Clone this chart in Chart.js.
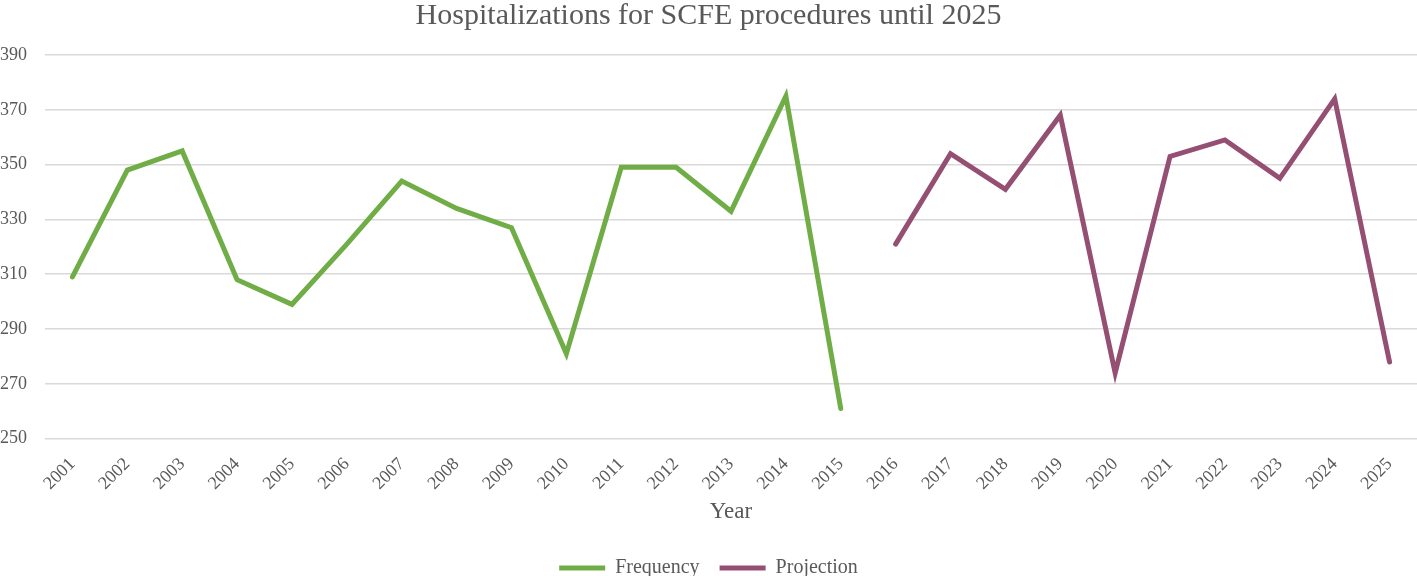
<!DOCTYPE html>
<html>
<head>
<meta charset="utf-8">
<script src="https://cdn.jsdelivr.net/npm/chart.js@4.4.0/dist/chart.umd.min.js"></script>
<style>
  html, body { margin: 0; padding: 0; background: #fff; }
  .wrap { width: 1417px; height: 576px; position: relative; }
</style>
</head>
<body>
<div class="wrap"><canvas id="chart"></canvas></div>
<script>
// years on the x axis
const years = ["2001", "2002", "2003", "2004", "2005", "2006", "2007", "2008", "2009", "2010",
  "2011", "2012", "2013", "2014", "2015", "2016", "2017", "2018", "2019", "2020",
  "2021", "2022", "2023", "2024", "2025"];

// observed hospitalizations 2001-2015
const frequency = [309, 348, 355, 308, 299, 321, 344, 334, 327, 281,
  349, 349, 333, 375, 261, null, null, null, null, null,
  null, null, null, null, null];

// projected values 2016-2025
const projection = [null, null, null, null, null, null, null, null, null, null,
  null, null, null, null, null, 321, 354, 341, 368, 274,
  353, 359, 345, 374, 278];

const textColor = "#595959";
const serif = "'Liberation Serif', 'Times New Roman', serif";

let chartElement = document.getElementById("chart");
let config = {
  type: "line",
  data: {
    labels: years,
    datasets: [
      {
        label: "Frequency",
        data: frequency,
        borderColor: "#70AD47",
        backgroundColor: "#70AD47",
        borderWidth: 5,
        borderCapStyle: "round",
        pointRadius: 0,
        tension: 0,
        spanGaps: false,
      },
      {
        label: "Projection",
        data: projection,
        borderColor: "#954F72",
        backgroundColor: "#954F72",
        borderWidth: 5,
        borderCapStyle: "round",
        pointRadius: 0,
        tension: 0,
        spanGaps: false,
      },
    ],
  },
  options: {
    responsive: true,
    maintainAspectRatio: false,
    animation: false,
    layout: { padding: { left: 0, right: 0, top: -2, bottom: -12 } },
    plugins: {
      title: {
        display: true,
        text: "Hospitalizations for SCFE procedures until 2025",
        color: textColor,
        font: { family: serif, size: 30, weight: "normal" },
        padding: { top: 0, bottom: 21 },
      },
      legend: {
        position: "bottom",
        labels: {
          color: textColor,
          font: { family: serif, size: 20 },
          usePointStyle: true,
          pointStyle: "line",
          pointStyleWidth: 46,
          boxHeight: 5,
          padding: 20,
        },
      },
      tooltip: { enabled: false },
    },
    scales: {
      x: {
        offset: true,
        grid: { display: false, drawTicks: false },
        border: { display: false },
        ticks: {
          color: textColor,
          font: { family: serif, size: 18 },
          autoSkip: false,
          minRotation: 45,
          maxRotation: 45,
          padding: 15,
        },
        title: {
          display: true,
          text: "Year",
          color: textColor,
          font: { family: serif, size: 23 },
          padding: { top: -11, bottom: 12 },
        },
        afterFit: (scale) => {
          // let the first rotated label hang over the y axis like the original
          scale.paddingLeft = 0;
          scale.paddingRight = 0;
        },
      },
      y: {
        min: 250,
        max: 390,
        grid: { color: "#d9d9d9", lineWidth: 1.5, drawTicks: false },
        border: { display: false },
        ticks: {
          stepSize: 20,
          color: textColor,
          font: { family: serif, size: 18 },
          padding: 9,
          crossAlign: "far",
        },
      },
    },
  },
};
let lineChart = new Chart(chartElement, config);
</script>
</body>
</html>
